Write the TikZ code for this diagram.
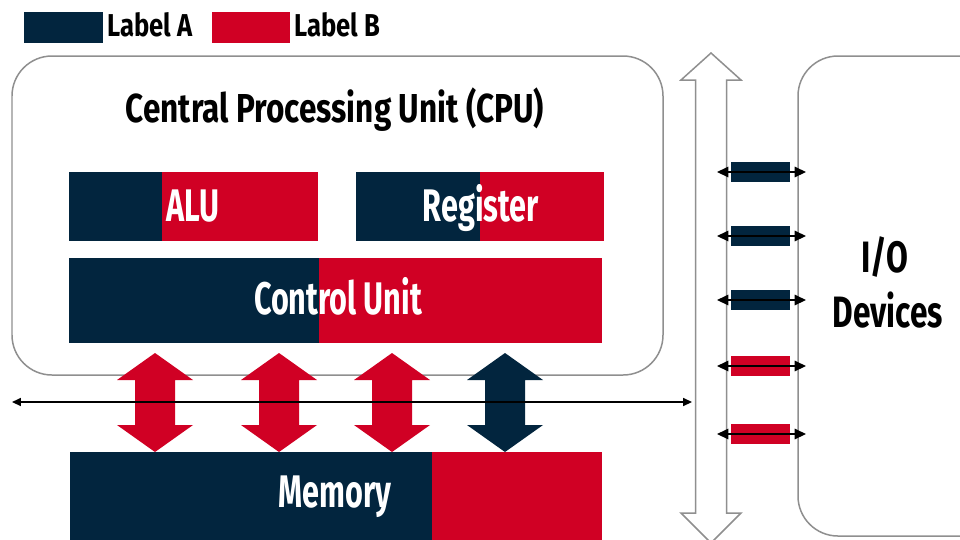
\documentclass[tikz,border=0pt]{standalone}
\usepackage{fontspec}
\usetikzlibrary{arrows.meta,fit}
\newfontfamily\condfont[FakeStretch=0.67]{Fira Sans}
\newfontfamily\headfont[FakeStretch=0.78]{Fira Sans}
\newfontfamily\legfont[FakeStretch=0.81]{Fira Sans}
\newfontfamily\iofont[FakeStretch=0.72]{Fira Sans}
\definecolor{navy}{HTML}{02253E}
\definecolor{crimson}{HTML}{D00024}
\definecolor{outline}{HTML}{8F8F8F}
\tikzset{
  roundbox/.style={draw=outline, line width=0.85pt, rounded corners=0.8cm, inner sep=0pt},
  boxlabel/.style={text=white, inner sep=0pt, anchor=base, font=\condfont\bfseries\fontsize{26}{30}\selectfont},
  titlelabel/.style={text=black, inner sep=0pt, anchor=base, font=\headfont\bfseries\fontsize{23}{27}\selectfont},
  iolabel/.style={text=black, inner sep=0pt, anchor=base, font=\iofont\bfseries\fontsize{25}{29}\selectfont},
  legendlabel/.style={text=black, inner sep=0pt, anchor=base west, font=\legfont\bfseries\fontsize{18}{22}\selectfont},
  smallconn/.style={draw=none, minimum width=1.18cm, minimum height=0.39cm, inner sep=0pt},
  connline/.style={black, line width=0.8pt, {Triangle[length=6.5pt,width=6pt]}-{Triangle[length=6.5pt,width=6pt]}},
  busline/.style={black, line width=0.8pt, {Triangle[length=5pt,width=4.5pt]}-{Triangle[length=5pt,width=4.5pt]}},
  blockarrow/.pic={
    \fill (0,353) -- (38,380) -- (20,380) -- (20,425) -- (38,425) -- (0,452)
      -- (-38,425) -- (-20,425) -- (-20,380) -- (-38,380) -- cycle;
  }
}
\begin{document}
\begin{tikzpicture}[x=0.02cm,y=-0.02cm]
\useasboundingbox (0,0) rectangle (960,539);
\clip (0,0) rectangle (960,539);
\fill[white] (0,0) rectangle (960,539);

% legend
\fill[navy] (24,12) rectangle (103,43);
\node[legendlabel] (la) at (107,36) {Label A};
\fill[crimson] (212,12) rectangle (290,43);
\node[legendlabel] (lb) at (294,36) {Label B};

% CPU box
\node[roundbox, fit={(12,56) (663,375)}] (cpu) {};
\node[titlelabel] (cputitle) at (335,122) {Central Processing Unit (CPU)};

% ALU
\fill[navy] (69,172) rectangle (162,241);
\fill[crimson] (162,172) rectangle (318,241);
\node[inner sep=0pt, fit={(69,172) (318,241)}] (alu) {};
\node[boxlabel, anchor=base west] at (166,221) {ALU};

% Register
\fill[navy] (356,172) rectangle (480,241);
\fill[crimson] (480,172) rectangle (604,241);
\node[inner sep=0pt, fit={(356,172) (604,241)}] (reg) {};
\node[boxlabel] at (481,221) {Register};

% Control unit
\fill[navy] (69,258) rectangle (319,343);
\fill[crimson] (319,258) rectangle (602,343);
\node[inner sep=0pt, fit={(69,258) (602,343)}] (cu) {};
\node[boxlabel] at (338,314) {Control Unit};

% Memory
\fill[navy] (70,452) rectangle (432,545);
\fill[crimson] (432,452) rectangle (602,545);
\node[inner sep=0pt, fit={(70,452) (602,545)}] (mem) {};
\node[boxlabel] at (335,507) {Memory};

% block arrows between control unit and memory
\pic[crimson] at (155,0) {blockarrow};
\pic[crimson] at (279,0) {blockarrow};
\pic[crimson] at (392,0) {blockarrow};
\pic[navy] at (505,0) {blockarrow};

% horizontal bus line
\coordinate (hl) at (12,402);
\coordinate (hr) at (692,402);
\draw[busline] (hl) -- (hr);

% vertical system bus (outline double arrow)
\draw[outline, fill=white, line width=0.85pt, line join=miter]
  (711,53) -- (741,80) -- (726.5,80) -- (726.5,513) -- (741,513) -- (711,543)
  -- (681,513) -- (695.5,513) -- (695.5,80) -- (681,80) -- cycle;
\node[inner sep=0pt, fit={(681,53) (741,539)}] (bus) {};

% I/O devices box
\node[roundbox, fit={(798,56) (1010,536)}] (io) {};
\node[iolabel] (iotext1) at (885,272) {I/O};
\node[iolabel] (iotext2) at (888,327) {Devices};

% small connectors
\foreach \yy/\col [count=\i] in {172/navy,236/navy,300/navy,366/crimson,434/crimson}{
  \node[smallconn, fill=\col] (c\i) at (760.5,\yy) {};
  \coordinate (cl\i) at (717,\yy);
  \coordinate (cr\i) at (806,\yy);
  \draw[connline] (cl\i) -- (cr\i);
}
\end{tikzpicture}
\end{document}
